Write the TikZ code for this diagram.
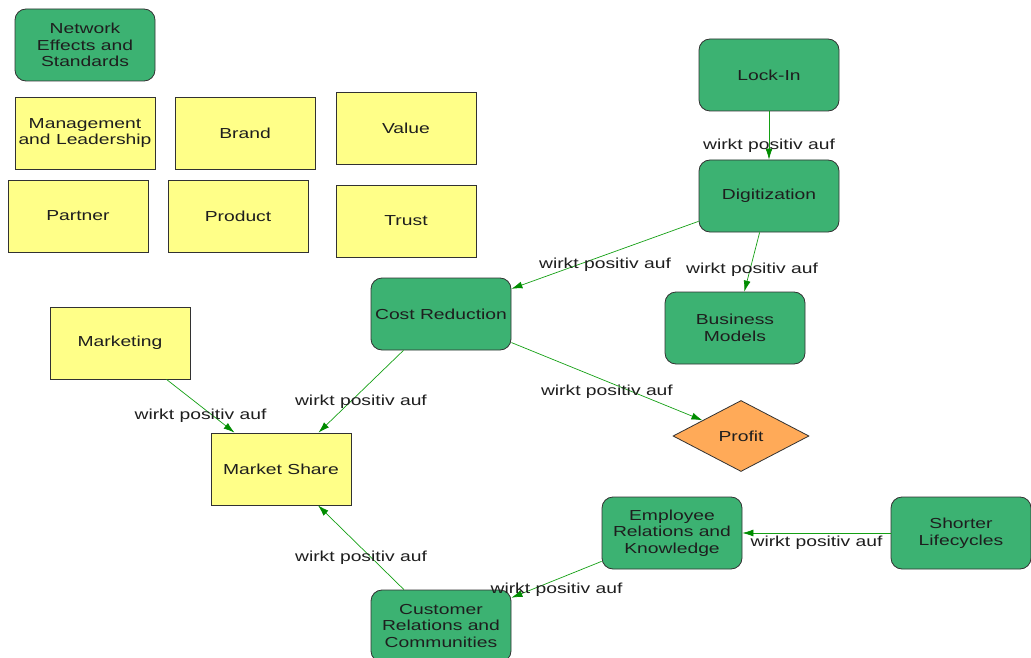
\documentclass[tikz,border=0pt]{standalone}
\usepackage{fontspec}
\setmainfont[FakeStretch=1.33]{Liberation Sans}
\usetikzlibrary{shapes.geometric,arrows.meta}
\definecolor{boxgreen}{RGB}{60,178,114}
\definecolor{boxyellow}{RGB}{255,255,136}
\definecolor{boxorange}{RGB}{255,170,88}
\definecolor{edgegreen}{RGB}{20,160,20}
\definecolor{tipgreen}{RGB}{0,140,0}
\definecolor{rimgray}{RGB}{50,50,50}
\definecolor{inkgray}{RGB}{30,30,30}
\tikzset{
  base/.style={draw=rimgray, line width=0.8pt, text=inkgray, align=center,
    minimum width=140pt, minimum height=72pt, inner sep=0pt,
    font=\fontsize{14.5}{16.5}\selectfont},
  greenbox/.style={base, fill=boxgreen, rounded corners=11pt},
  yellowbox/.style={base, fill=boxyellow},
  goalshape/.style={base, diamond, fill=boxorange, shape aspect=1.9,
    minimum width=136pt, minimum height=71pt},
  link/.style={draw=edgegreen, line width=0.7pt,
    -{Latex[length=11pt,width=7pt,color=tipgreen]}},
  lbl/.style={text=inkgray, inner sep=0pt, yshift=-10pt,
    font=\fontsize{14.5}{16.5}\selectfont}
}
\begin{document}
\begin{tikzpicture}[x=1pt,y=-1pt]
\useasboundingbox (0,0) rectangle (1031,658);
\fill[white] (0,0) rectangle (1031,658);

% free-standing factors
\node[greenbox]  (net)   at (85,45)   {Network\\Effects and\\Standards};
\node[yellowbox] (mgmt)  at (85,133)  {Management\\and Leadership};
\node[yellowbox] (brand) at (245,133) {Brand};
\node[yellowbox] (value) at (406,128) {Value};
\node[yellowbox] (part)  at (78,216)  {Partner};
\node[yellowbox] (prod)  at (238,216) {Product};
\node[yellowbox] (trust) at (406,221) {Trust};

% linked factors
\node[greenbox]  (lock)  at (769,75)  {Lock-In};
\node[greenbox]  (digi)  at (769,196) {Digitization};
\node[greenbox]  (cost)  at (441,314) {Cost Reduction};
\node[greenbox]  (bm)    at (735,328) {Business\\Models};
\node[yellowbox] (mkt)   at (120,343) {Marketing};
\node[yellowbox] (share) at (281,469) {Market Share};
\node[goalshape] (profit) at (741,436) {Profit};
\node[greenbox]  (emp)   at (672,533) {Employee\\Relations and\\Knowledge};
\node[greenbox]  (short) at (961,533) {Shorter\\Lifecycles};
\node[greenbox]  (cust)  at (441,626) {Customer\\Relations and\\Communities};

% influences
\draw[link] (lock)  -- node[lbl, midway] {wirkt positiv auf} (digi);
\draw[link] (digi)  -- node[lbl, midway] {wirkt positiv auf} (cost);
\draw[link] (digi)  -- node[lbl, midway, yshift=2pt] {wirkt positiv auf} (bm);
\draw[link] (cost)  -- node[lbl, midway] {wirkt positiv auf} (profit);
\draw[link] (cost)  -- node[lbl, midway] {wirkt positiv auf} (share);
\draw[link] (mkt)   -- node[lbl, midway] {wirkt positiv auf} (share);
\draw[link] (cust)  -- node[lbl, midway] {wirkt positiv auf} (share);
\draw[link] (emp)   -- node[lbl, midway] {wirkt positiv auf} (cust);
\draw[link] (short) -- node[lbl, midway] {wirkt positiv auf} (emp);
\end{tikzpicture}
\end{document}
